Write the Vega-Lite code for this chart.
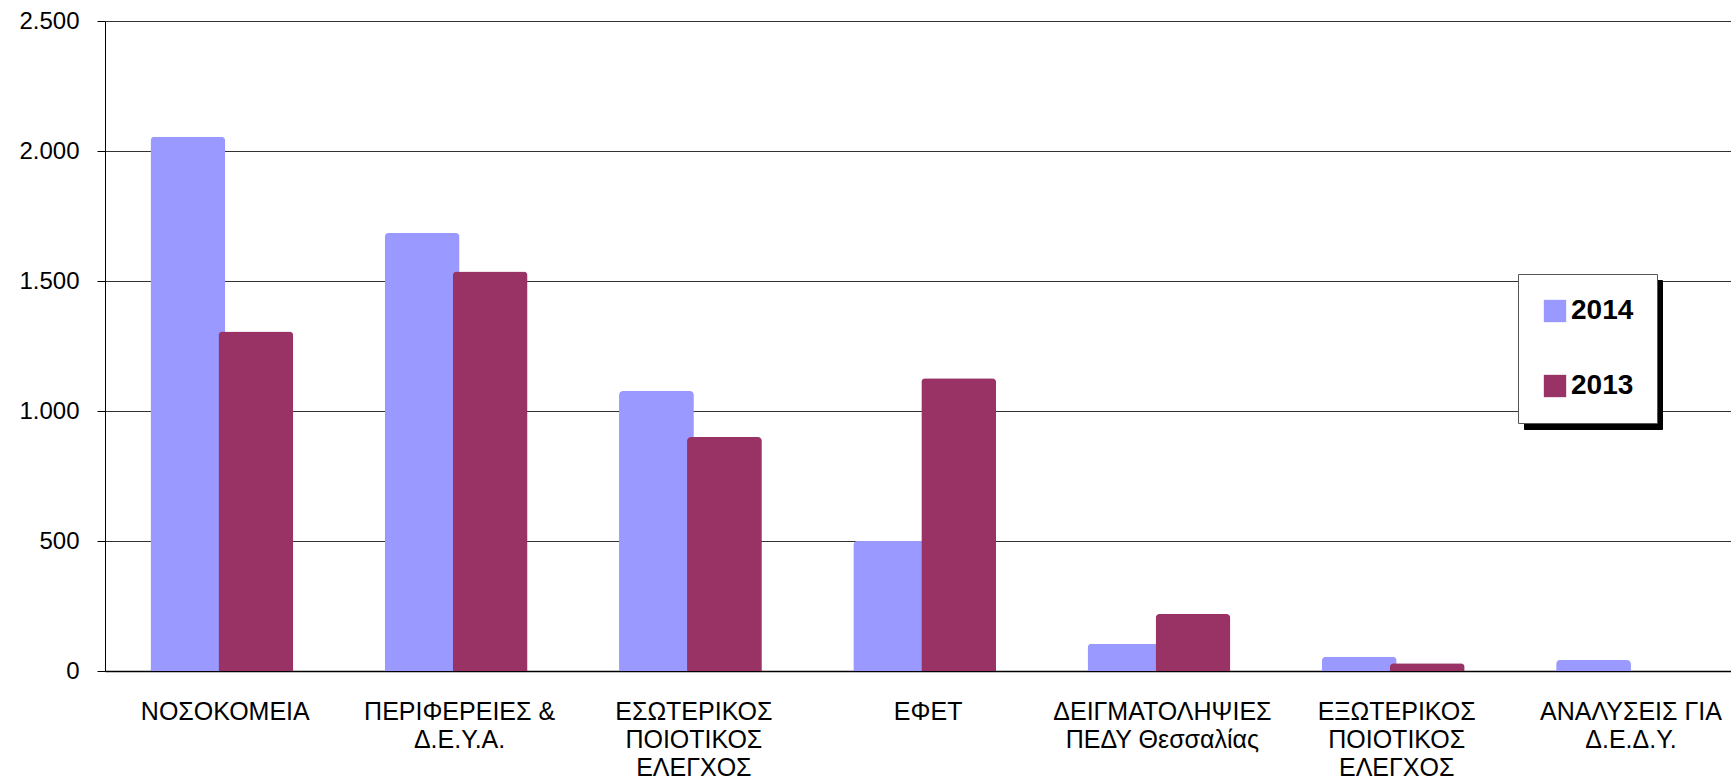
{
  "$schema": "https://vega.github.io/schema/vega-lite/v6.json",
  "width": 1626,
  "height": 650,
  "autosize": {"type": "none"},
  "padding": {"left": 105, "top": 21, "right": 0, "bottom": 111},
  "background": "white",
  "data": {
    "values": [
      {"category": "ΝΟΣΟΚΟΜΕΙΑ", "year": "2014", "count": 2055},
      {"category": "ΠΕΡΙΦΕΡΕΙΕΣ &\nΔ.Ε.Υ.Α.", "year": "2014", "count": 1685},
      {"category": "ΕΣΩΤΕΡΙΚΟΣ\nΠΟΙΟΤΙΚΟΣ\nΕΛΕΓΧΟΣ", "year": "2014", "count": 1077},
      {"category": "ΕΦΕΤ", "year": "2014", "count": 500},
      {"category": "ΔΕΙΓΜΑΤΟΛΗΨΙΕΣ\nΠΕΔΥ Θεσσαλίας", "year": "2014", "count": 105},
      {"category": "ΕΞΩΤΕΡΙΚΟΣ\nΠΟΙΟΤΙΚΟΣ\nΕΛΕΓΧΟΣ", "year": "2014", "count": 55},
      {"category": "ΑΝΑΛΥΣΕΙΣ ΓΙΑ\nΔ.Ε.Δ.Υ.", "year": "2014", "count": 42},
      {"category": "ΝΟΣΟΚΟΜΕΙΑ", "year": "2013", "count": 1306},
      {"category": "ΠΕΡΙΦΕΡΕΙΕΣ &\nΔ.Ε.Υ.Α.", "year": "2013", "count": 1537},
      {"category": "ΕΣΩΤΕΡΙΚΟΣ\nΠΟΙΟΤΙΚΟΣ\nΕΛΕΓΧΟΣ", "year": "2013", "count": 900},
      {"category": "ΕΦΕΤ", "year": "2013", "count": 1126},
      {"category": "ΔΕΙΓΜΑΤΟΛΗΨΙΕΣ\nΠΕΔΥ Θεσσαλίας", "year": "2013", "count": 219},
      {"category": "ΕΞΩΤΕΡΙΚΟΣ\nΠΟΙΟΤΙΚΟΣ\nΕΛΕΓΧΟΣ", "year": "2013", "count": 30}
    ]
  },
  "encoding": {
    "x": {
      "field": "category",
      "type": "nominal",
      "sort": null,
      "title": null,
      "scale": {"paddingInner": 0.4194, "paddingOuter": 0.18, "align": 0.62},
      "axis": {
        "labelAngle": 0,
        "ticks": false,
        "tickSize": 0,
        "labelPadding": 28,
        "labelLimit": 0,
        "labelFont": "Liberation Sans",
        "labelFontSize": 25,
        "labelLineHeight": 28,
        "labelColor": "black",
        "labelBaseline": "top",
        "labelExpr": "split(datum.value, '\\n')",
        "domainColor": "black",
        "domainWidth": 1.5,
        "grid": false
      }
    },
    "xOffset": {"field": "year", "type": "nominal", "sort": ["2014", "2013"]},
    "y": {
      "field": "count",
      "type": "quantitative",
      "title": null,
      "scale": {"domain": [0, 2500], "nice": false},
      "axis": {
        "values": [0, 500, 1000, 1500, 2000, 2500],
        "labelExpr": "replace(format(datum.value, ','), ',', '.')",
        "labelFont": "Liberation Sans",
        "labelFontSize": 24,
        "labelColor": "black",
        "labelPadding": 18,
        "tickSize": 8,
        "tickColor": "black",
        "domainColor": "black",
        "grid": true,
        "gridColor": "#333333",
        "gridWidth": 1
      }
    }
  },
  "layer": [
    {
      "description": "Hidden copy of the bars; only its legend is shown, as the drop shadow behind the legend box.",
      "mark": {
        "type": "bar",
        "width": {"band": 1.1},
        "opacity": 0
      },
      "encoding": {
        "color": {
          "field": "year",
          "type": "nominal",
          "scale": {"domain": ["2014", "2013"], "range": ["black", "black"]},
          "legend": {
            "title": null,
            "orient": "none",
            "legendX": 1419,
            "legendY": 259,
            "zindex": 1,
            "direction": "vertical",
            "fillColor": "black",
            "strokeColor": "black",
            "padding": 23,
            "rowPadding": 47,
            "symbolType": "square",
            "symbolSize": 500,
            "symbolStrokeWidth": 0,
            "symbolOpacity": 1,
            "labelExpr": "''",
            "labelOffset": 64,
            "labelFont": "Liberation Sans",
            "labelFontSize": 28,
            "labelFontWeight": "bold",
            "labelColor": "black"
          }
        }
      }
    },
    {
      "mark": {
        "type": "bar",
        "width": {"band": 1.1},
        "cornerRadiusTopLeft": 4,
        "cornerRadiusTopRight": 4
      },
      "encoding": {
        "color": {
          "field": "year",
          "type": "nominal",
          "scale": {"domain": ["2014", "2013"], "range": ["#9999FF", "#993366"]},
          "legend": {
            "title": null,
            "orient": "none",
            "legendX": 1413,
            "legendY": 253,
            "zindex": 2,
            "direction": "vertical",
            "fillColor": "white",
            "strokeColor": "#555555",
            "padding": 23,
            "rowPadding": 47,
            "symbolType": "square",
            "symbolSize": 500,
            "symbolStrokeWidth": 0,
            "labelOffset": 2,
            "labelFont": "Liberation Sans",
            "labelFontSize": 28,
            "labelFontWeight": "bold",
            "labelColor": "black"
          }
        }
      }
    }
  ],
  "resolve": {
    "scale": {"color": "independent"},
    "legend": {"color": "independent"}
  },
  "config": {
    "view": {"stroke": null},
    "font": "Liberation Sans"
  }
}
